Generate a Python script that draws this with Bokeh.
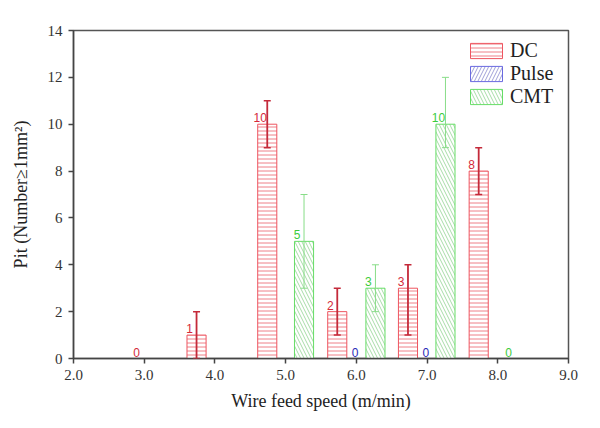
from bokeh.plotting import figure
from bokeh.models import ColumnDataSource, Whisker, TeeHead, FixedTicker, Legend, LegendItem, NumeralTickFormatter
from bokeh.core.properties import value
from bokeh.embed import file_html
from bokeh.resources import INLINE

# ---- data ----
dc_x = [2.99, 3.74, 4.74, 5.73, 6.73, 7.73]
dc_val = [0, 1, 10, 2, 3, 8]
dc_lo = [0, 0, 9, 1, 1, 7]
dc_hi = [0, 2, 11, 3, 4, 9]

pulse_x = [6.08, 7.08]
pulse_val = [0, 0]

cmt_x = [5.26, 6.27, 7.26, 8.25]
cmt_val = [5, 3, 10, 0]
cmt_lo = [3, 2, 9, 0]
cmt_hi = [7, 4, 12, 0]

x_ticks = [2, 3, 4, 5, 6, 7, 8, 9]
y_ticks = [0, 2, 4, 6, 8, 10, 12, 14]
bar_w = 0.27

SERIF = "Liberation Serif"

p = figure(width=592, height=420, x_range=(2, 9), y_range=(0, 14),
           output_backend="svg", toolbar_location=None,
           min_border_left=73, min_border_right=24, min_border_top=30, min_border_bottom=62)
p.xgrid.visible = False
p.ygrid.visible = False
p.outline_line_color = "#555555"
p.outline_line_width = 1.5
p.background_fill_color = "white"

def lbl(v):
    return [str(a) for a in v]

dc_src = ColumnDataSource(dict(x=dc_x, top=dc_val, lo=dc_lo, hi=dc_hi, t=lbl(dc_val)))
pu_src = ColumnDataSource(dict(x=pulse_x, top=pulse_val, t=lbl(pulse_val)))
cm_src = ColumnDataSource(dict(x=cmt_x, top=cmt_val, lo=cmt_lo, hi=cmt_hi, t=lbl(cmt_val)))

r_dc = p.vbar(x="x", top="top", width=bar_w, source=dc_src, fill_color="white",
              line_color="#ee5560", line_width=1,
              hatch_pattern="horizontal_line", hatch_color="#ee8088", hatch_scale=4, hatch_weight=1)
r_pu = p.vbar(x="x", top="top", width=bar_w, source=pu_src, fill_color="white",
              line_color="#6a6ae0", line_width=1,
              hatch_pattern="right_diagonal_line", hatch_color="#a0a0d8", hatch_scale=7, hatch_weight=1)
r_cm = p.vbar(x="x", top="top", width=bar_w, source=cm_src, fill_color="white",
              line_color="#66dd66", line_width=1,
              hatch_pattern="left_diagonal_line", hatch_color="#a8dca8", hatch_scale=7, hatch_weight=1)

# error bars (skip zero values)
dc_e = ColumnDataSource(dict(x=[x for x, v in zip(dc_x, dc_val) if v > 0],
                             lo=[l for l, v in zip(dc_lo, dc_val) if v > 0],
                             hi=[h for h, v in zip(dc_hi, dc_val) if v > 0]))
cm_e = ColumnDataSource(dict(x=[x for x, v in zip(cmt_x, cmt_val) if v > 0],
                             lo=[l for l, v in zip(cmt_lo, cmt_val) if v > 0],
                             hi=[h for h, v in zip(cmt_hi, cmt_val) if v > 0]))
w1 = Whisker(base="x", lower="lo", upper="hi", source=dc_e, dimension="height",
             line_color="#c42a3a", line_width=1.8, level="overlay",
             upper_head=TeeHead(size=7, line_color="#c42a3a", line_width=1.5),
             lower_head=TeeHead(size=7, line_color="#c42a3a", line_width=1.5))
w2 = Whisker(base="x", lower="lo", upper="hi", source=cm_e, dimension="height",
             line_color="#88dd88", line_width=1, level="overlay",
             upper_head=TeeHead(size=7, line_color="#88dd88", line_width=1),
             lower_head=TeeHead(size=7, line_color="#88dd88", line_width=1))
p.add_layout(w1)
p.add_layout(w2)

# value labels
for src, col in ((dc_src, "#d42a3a"), (pu_src, "#2a2ab8"), (cm_src, "#3ccc3c")):
    p.text(x="x", y="top", text="t", source=src, text_color=col,
           text_font=value("Liberation Sans"), text_font_size="12px",
           text_align="center", text_baseline="bottom", x_offset=-7, y_offset=-2)

# axes
for ax in (p.xaxis[0], p.yaxis[0]):
    ax.axis_line_color = "#444444"
    ax.axis_line_width = 1.5
    ax.major_tick_line_color = "#444444"
    ax.major_tick_line_width = 1.5
    ax.major_tick_out = 5
    ax.major_tick_in = 0
    ax.minor_tick_line_color = None
    ax.major_label_text_font = SERIF
    ax.major_label_text_font_size = "15px"
    ax.major_label_text_color = "#333333"
    ax.axis_label_text_font = SERIF
    ax.axis_label_text_font_style = "normal"
    ax.axis_label_text_color = "#222222"

p.xaxis.ticker = FixedTicker(ticks=x_ticks)
p.yaxis.ticker = FixedTicker(ticks=y_ticks)
p.xaxis.formatter = NumeralTickFormatter(format="0.0")
p.xaxis.axis_label = "Wire feed speed (m/min)"
p.yaxis.axis_label = "Pit (Number\u22651mm\u00b2)"
p.xaxis.axis_label_text_font_size = "18px"
p.yaxis.axis_label_text_font_size = "18px"
p.xaxis.major_label_standoff = 6
p.yaxis.major_label_standoff = 6
p.xaxis.axis_label_standoff = 8
p.yaxis.axis_label_standoff = 14

legend = Legend(items=[LegendItem(label="DC", renderers=[r_dc]),
                       LegendItem(label="Pulse", renderers=[r_pu]),
                       LegendItem(label="CMT", renderers=[r_cm])],
                location=(393, 250), border_line_color=None, background_fill_alpha=0,
                glyph_width=40, glyph_height=19, label_text_font=SERIF,
                label_text_font_size="20px", label_text_color="#222222",
                spacing=0, padding=2, margin=0, label_standoff=4)
p.add_layout(legend)

open("out.html", "w").write(file_html(p, INLINE))
